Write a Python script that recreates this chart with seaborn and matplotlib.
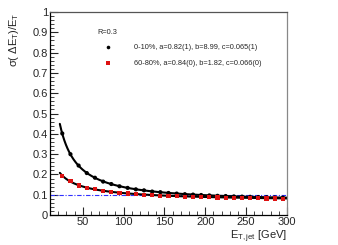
import numpy as np
import pandas as pd
import seaborn as sns
import matplotlib
matplotlib.use('Agg')
import matplotlib.pyplot as plt
from matplotlib.ticker import MultipleLocator

# jet ET bins (GeV) and resolution points
et_points = [25, 35, 45, 55, 65, 75, 85, 95, 105, 115, 125, 135, 145, 155,
             165, 175, 185, 195, 205, 215, 225, 235, 245, 255, 265, 275, 285, 295]
central_res = [0.402, 0.300, 0.244, 0.207, 0.184, 0.165, 0.153, 0.142, 0.134, 0.127,
               0.122, 0.116, 0.113, 0.109, 0.106, 0.103, 0.101, 0.099, 0.097, 0.095,
               0.094, 0.092, 0.091, 0.090, 0.089, 0.088, 0.087, 0.086]
periph_res = [0.193, 0.166, 0.146, 0.134, 0.127, 0.119, 0.114, 0.110, 0.106, 0.103,
              0.100, 0.098, 0.096, 0.094, 0.093, 0.091, 0.090, 0.089, 0.088, 0.087,
              0.086, 0.085, 0.084, 0.084, 0.083, 0.082, 0.082, 0.081]

# fit parameters from the legend: sigma/E = sqrt(c^2 + a^2/E + b^2/E^2)
fit_central = (0.82, 8.99, 0.065)
fit_periph = (0.84, 1.82, 0.066)
labels = ['0-10%, a=0.82(1), b=8.99, c=0.065(1)',
          '60-80%, a=0.84(0), b=1.82, c=0.066(0)']

sns.set_style('ticks')
plt.rcParams['font.family'] = ['Liberation Sans', 'DejaVu Sans']
plt.rcParams['mathtext.fontset'] = 'custom'
plt.rcParams['mathtext.rm'] = 'Liberation Sans'
plt.rcParams['mathtext.it'] = 'Liberation Sans'

fig = plt.figure(figsize=(3.38, 2.45), dpi=100)
ax = fig.add_axes([0.148, 0.122, 0.701, 0.829])

e_fit = np.linspace(22, 300, 300)
for (a, b, c) in [fit_central, fit_periph]:
    res = np.sqrt(c**2 + a**2 / e_fit + b**2 / e_fit**2)
    sns.lineplot(x=e_fit, y=res, ax=ax, color='black', lw=1.5, zorder=2)

ax.axhline(0.1, color='#3030ff', lw=0.8, ls=(0, (4, 1.5, 1, 1.5)), zorder=1)

pts = pd.DataFrame({
    'et': et_points * 2,
    'res': central_res + periph_res,
    'set': [labels[0]] * len(et_points) + [labels[1]] * len(et_points),
})
sns.scatterplot(data=pts, x='et', y='res', hue='set', style='set',
                palette=['black', '#dd1111'], markers=['o', 's'],
                s=9, linewidth=0, ax=ax, zorder=3)

handles, lbls = ax.get_legend_handles_labels()
for h in handles:
    h.set_markersize(2.6)
ax.legend(handles, lbls, loc='upper left', bbox_to_anchor=(0.215, 0.86),
          frameon=False, fontsize=5.3, handletextpad=3.0, labelspacing=1.2,
          handlelength=1.0, borderpad=0)
ax.text(0.2, 0.897, 'R=0.3', transform=ax.transAxes, fontsize=5.3,
        ha='left', va='center')

ax.set_xlim(10, 300)
ax.set_ylim(0, 1)
ax.xaxis.set_major_locator(MultipleLocator(50))
ax.xaxis.set_minor_locator(MultipleLocator(10))
ax.yaxis.set_major_locator(MultipleLocator(0.1))
ax.yaxis.set_minor_locator(MultipleLocator(0.02))
ax.set_yticks(np.arange(0, 1.01, 0.1))
ax.set_yticklabels(['0', '0.1', '0.2', '0.3', '0.4', '0.5', '0.6', '0.7', '0.8', '0.9', '1'])
ax.set_xticks([50, 100, 150, 200, 250, 300])
ax.tick_params(which='major', direction='in', length=6, width=0.8, labelsize=8, pad=1.5)
ax.tick_params(which='minor', direction='in', length=3, width=0.6)
for s in ax.spines.values():
    s.set_linewidth(0.9)
    s.set_color('black')
ax.spines['right'].set_color('#888888')
ax.spines['top'].set_color('#555555')

ax.set_xlabel(r'E$_{\mathrm{T,jet}}$ [GeV]', fontsize=8, ha='right', x=1.0, labelpad=1)
ax.set_ylabel(r'σ( ΔE$_{\mathrm{T}}$)/E$_{\mathrm{T}}$', fontsize=8, ha='right', y=1.0, labelpad=8)

fig.savefig('out.png', dpi=100)
